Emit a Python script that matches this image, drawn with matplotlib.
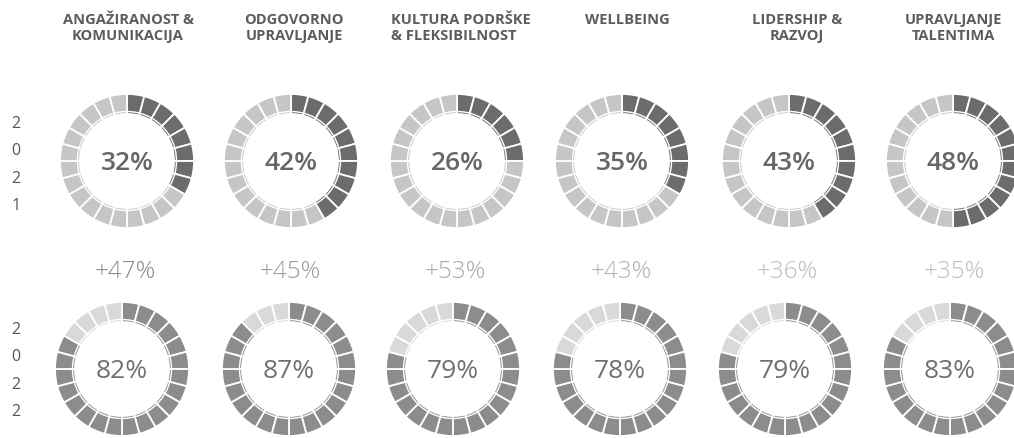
import matplotlib
matplotlib.use("Agg")
import matplotlib.pyplot as plt
from matplotlib.patches import Circle

# ---- data ----
categories = ["ANGAŽIRANOST &\nKOMUNIKACIJA", "ODGOVORNO\nUPRAVLJANJE",
              "KULTURA PODRŠKE\n& FLEKSIBILNOST", "WELLBEING",
              "LIDERSHIP &\nRAZVOJ", "UPRAVLJANJE\nTALENTIMA"]
pct_2021 = [32, 42, 26, 35, 43, 48]
pct_2022 = [82, 87, 79, 78, 79, 83]
growth = [47, 45, 53, 43, 36, 35]
years = ["2021", "2022"]
n_segments = 24

# ---- layout (pixels) ----
W, H = 1014, 439
plt.rcParams['font.family'] = ['Open Sans', 'DejaVu Sans']
fig = plt.figure(figsize=(W / 100, H / 100), dpi=100)
ax = fig.add_axes([0, 0, 1, 1])

x_row1 = [127, 291, 457, 622, 789, 953]
x_row2 = [122, 289, 453, 620, 785, 950]
y_row1, y_row2 = 162, 370
R, ring_w = 67, 20

def Y(py):
    return H - py

def donut(cx, cy, pct, dark, light):
    k = round(pct / 100 * n_segments)
    cols = [dark] * k + [light] * (n_segments - k)
    ax.pie([1] * n_segments, colors=cols, center=(cx, Y(cy)), radius=R,
           startangle=90, counterclock=False,
           wedgeprops=dict(width=ring_w, edgecolor='white', linewidth=1.3))
    ax.add_patch(Circle((cx, Y(cy)), R - ring_w + 2.5, fill=False,
                        edgecolor='white', linewidth=1.0, zorder=5))

for i in range(6):
    donut(x_row1[i], y_row1, pct_2021[i], '#6c6c6c', '#c6c6c6')
    ax.text(x_row1[i], Y(y_row1 + 2), f"{pct_2021[i]}%", ha='center', va='center',
            fontsize=19, fontweight='semibold', color='#666666')
    donut(x_row2[i], y_row2, pct_2022[i], '#8c8c8c', '#d9d9d9')
    ax.text(x_row2[i], Y(y_row2 + 2), f"{pct_2022[i]}%", ha='center', va='center',
            fontsize=19, color='#707070')

# headers
hdr_x = [128, 294, 461, 627, 797, 953]
for i, c in enumerate(categories):
    ax.text(hdr_x[i], Y(13), c, ha='center', va='top', fontsize=10.5,
            fontweight='bold', color='#5c5c5c', linespacing=1.15,
            multialignment='left' if i == 2 else 'center')

# growth labels
g_x = [125, 290, 455, 621, 787, 954]
g_col = ['#8a8a8a', '#9a9a9a', '#a8a8a8', '#b2b2b2', '#bdbdbd', '#bdbdbd']
for i, g in enumerate(growth):
    ax.text(g_x[i], Y(272), f"+{g}%", ha='center', va='center', fontsize=17.5,
            fontweight='light', color=g_col[i])

# year labels (vertical digits)
for yr, yc in zip(years, [165, 371]):
    for j, ch in enumerate(yr):
        ax.text(16, Y(yc + (j - 1.5) * 27.5), ch, ha='center', va='center',
                fontsize=11.5, color='#555555')

ax.set_xlim(0, W)
ax.set_ylim(0, H)
ax.set_aspect('equal')
ax.axis('off')
fig.savefig("out.png", dpi=100, facecolor='white')
